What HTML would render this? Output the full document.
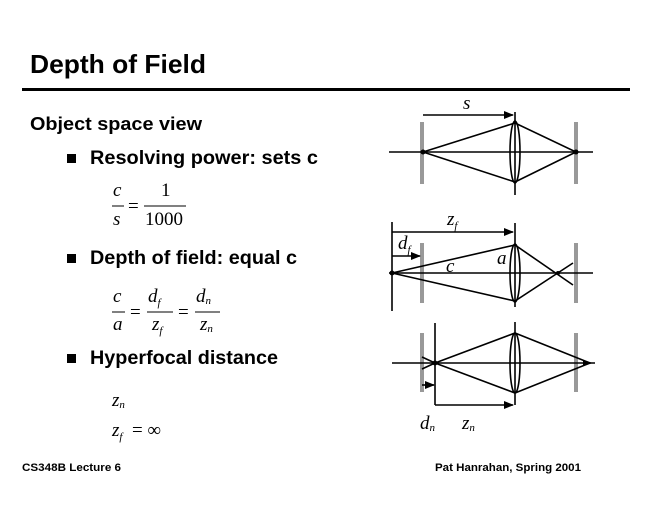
<!DOCTYPE html>
<html><head><style>html,body{margin:0;padding:0;background:#fff}svg{display:block}</style></head><body>
<svg width="660" height="510" viewBox="0 0 660 510" xmlns="http://www.w3.org/2000/svg">
<defs><marker id="ar" markerWidth="10" markerHeight="8" refX="9" refY="4" orient="auto" markerUnits="userSpaceOnUse"><path d="M0,0 L10,4 L0,8 z" fill="#000"/></marker></defs>
<g font-family="Liberation Sans, sans-serif" font-weight="bold" fill="#000">
<text x="30" y="73" font-size="26" textLength="176" lengthAdjust="spacingAndGlyphs">Depth of Field</text>
<text x="30" y="130" font-size="18" textLength="172" lengthAdjust="spacingAndGlyphs">Object space view</text>
<text x="90" y="164" font-size="19" textLength="228" lengthAdjust="spacingAndGlyphs">Resolving power: sets c</text>
<text x="90" y="264" font-size="19" textLength="207" lengthAdjust="spacingAndGlyphs">Depth of field: equal c</text>
<text x="90" y="364" font-size="19" textLength="188" lengthAdjust="spacingAndGlyphs">Hyperfocal distance</text>
<text x="22" y="471" font-size="11" textLength="99" lengthAdjust="spacingAndGlyphs">CS348B Lecture 6</text>
<text x="435" y="471" font-size="11" textLength="146" lengthAdjust="spacingAndGlyphs">Pat Hanrahan, Spring 2001</text>
</g>
<rect x="22" y="88" width="608" height="3" fill="#000"/>
<rect x="67" y="154" width="9" height="9" fill="#000"/>
<rect x="67" y="254" width="9" height="9" fill="#000"/>
<rect x="67" y="354" width="9" height="9" fill="#000"/>
<g font-family="Liberation Serif, serif" font-size="19" fill="#000">
<text x="113" y="196" font-style="italic">c</text>
<line x1="112" y1="206" x2="124" y2="206" stroke="#000"/>
<text x="113" y="225" font-style="italic">s</text>
<text x="128" y="212">=</text>
<text x="161" y="196">1</text>
<line x1="144" y1="206" x2="186" y2="206" stroke="#000"/>
<text x="145" y="225">1000</text>
<text x="113" y="302" font-style="italic">c</text>
<line x1="112" y1="312" x2="125" y2="312" stroke="#000"/>
<text x="113" y="330" font-style="italic">a</text>
<text x="130" y="318">=</text>
<text x="148" y="302" font-style="italic">d<tspan font-size="11" dy="4">f</tspan></text>
<line x1="147" y1="312" x2="173" y2="312" stroke="#000"/>
<text x="152" y="330" font-style="italic">z<tspan font-size="11" dy="4">f</tspan></text>
<text x="178" y="318">=</text>
<text x="196" y="302" font-style="italic">d<tspan font-size="11" dy="2">n</tspan></text>
<line x1="195" y1="312" x2="220" y2="312" stroke="#000"/>
<text x="200" y="330" font-style="italic">z<tspan font-size="11" dy="2">n</tspan></text>
<text x="112" y="406" font-style="italic">z<tspan font-size="11" dy="2">n</tspan></text>
<text x="112" y="436" font-style="italic">z<tspan font-size="11" dy="4">f</tspan></text>
<text x="132" y="436">= ∞</text>
<text x="463" y="109" font-style="italic">s</text>
<text x="447" y="225" font-style="italic">z<tspan font-size="11" dy="4">f</tspan></text>
<text x="398" y="249" font-style="italic">d<tspan font-size="11" dy="4">f</tspan></text>
<text x="446" y="272" font-style="italic">c</text>
<text x="497" y="264" font-style="italic">a</text>
<text x="420" y="429" font-style="italic">d<tspan font-size="11" dy="2">n</tspan></text>
<text x="462" y="429" font-style="italic">z<tspan font-size="11" dy="2">n</tspan></text>
</g>
<g stroke="#999" stroke-width="4">
<line x1="422" y1="122" x2="422" y2="184"/><line x1="576" y1="122" x2="576" y2="184"/>
<line x1="422" y1="243" x2="422" y2="303"/><line x1="576" y1="243" x2="576" y2="303"/>
<line x1="422" y1="333" x2="422" y2="392"/><line x1="576" y1="333" x2="576" y2="392"/>
</g>
<g stroke="#000" stroke-width="1.6" fill="none">
<line x1="389" y1="152" x2="593" y2="152"/>
<line x1="515" y1="112" x2="515" y2="195"/>
<ellipse cx="515" cy="152" rx="5" ry="31"/>
<polyline points="423,152 515,123 576,152 515,182 423,152"/>
<line x1="423" y1="115" x2="513" y2="115" marker-end="url(#ar)"/>
<line x1="389" y1="273" x2="593" y2="273"/>
<line x1="392" y1="222" x2="392" y2="311"/>
<line x1="515" y1="223" x2="515" y2="307"/>
<ellipse cx="515" cy="273" rx="5" ry="29"/>
<polyline points="392,273 515,245 573,285"/>
<polyline points="392,273 515,301 573,263"/>
<line x1="392" y1="232" x2="513" y2="232" marker-end="url(#ar)"/>
<line x1="392" y1="256" x2="420" y2="256" marker-end="url(#ar)"/>
<line x1="392" y1="363" x2="595" y2="363"/>
<line x1="435" y1="323" x2="435" y2="405"/>
<line x1="515" y1="322" x2="515" y2="405"/>
<ellipse cx="515" cy="363" rx="5" ry="30"/>
<polyline points="422,357 435,363 515,333 590,363 515,393 435,363 422,369"/>
<line x1="422" y1="385" x2="434" y2="385" marker-end="url(#ar)"/>
<line x1="435" y1="405" x2="513" y2="405" marker-end="url(#ar)"/>
</g>
<g fill="#000"><circle cx="423" cy="152" r="2.5"/><circle cx="576" cy="152" r="2.5"/><circle cx="392" cy="273" r="2.5"/><circle cx="558" cy="273" r="2"/><circle cx="435" cy="363" r="2.5"/><path d="M583,360 L593,363 L583,366z"/></g>
</svg>
</body></html>
